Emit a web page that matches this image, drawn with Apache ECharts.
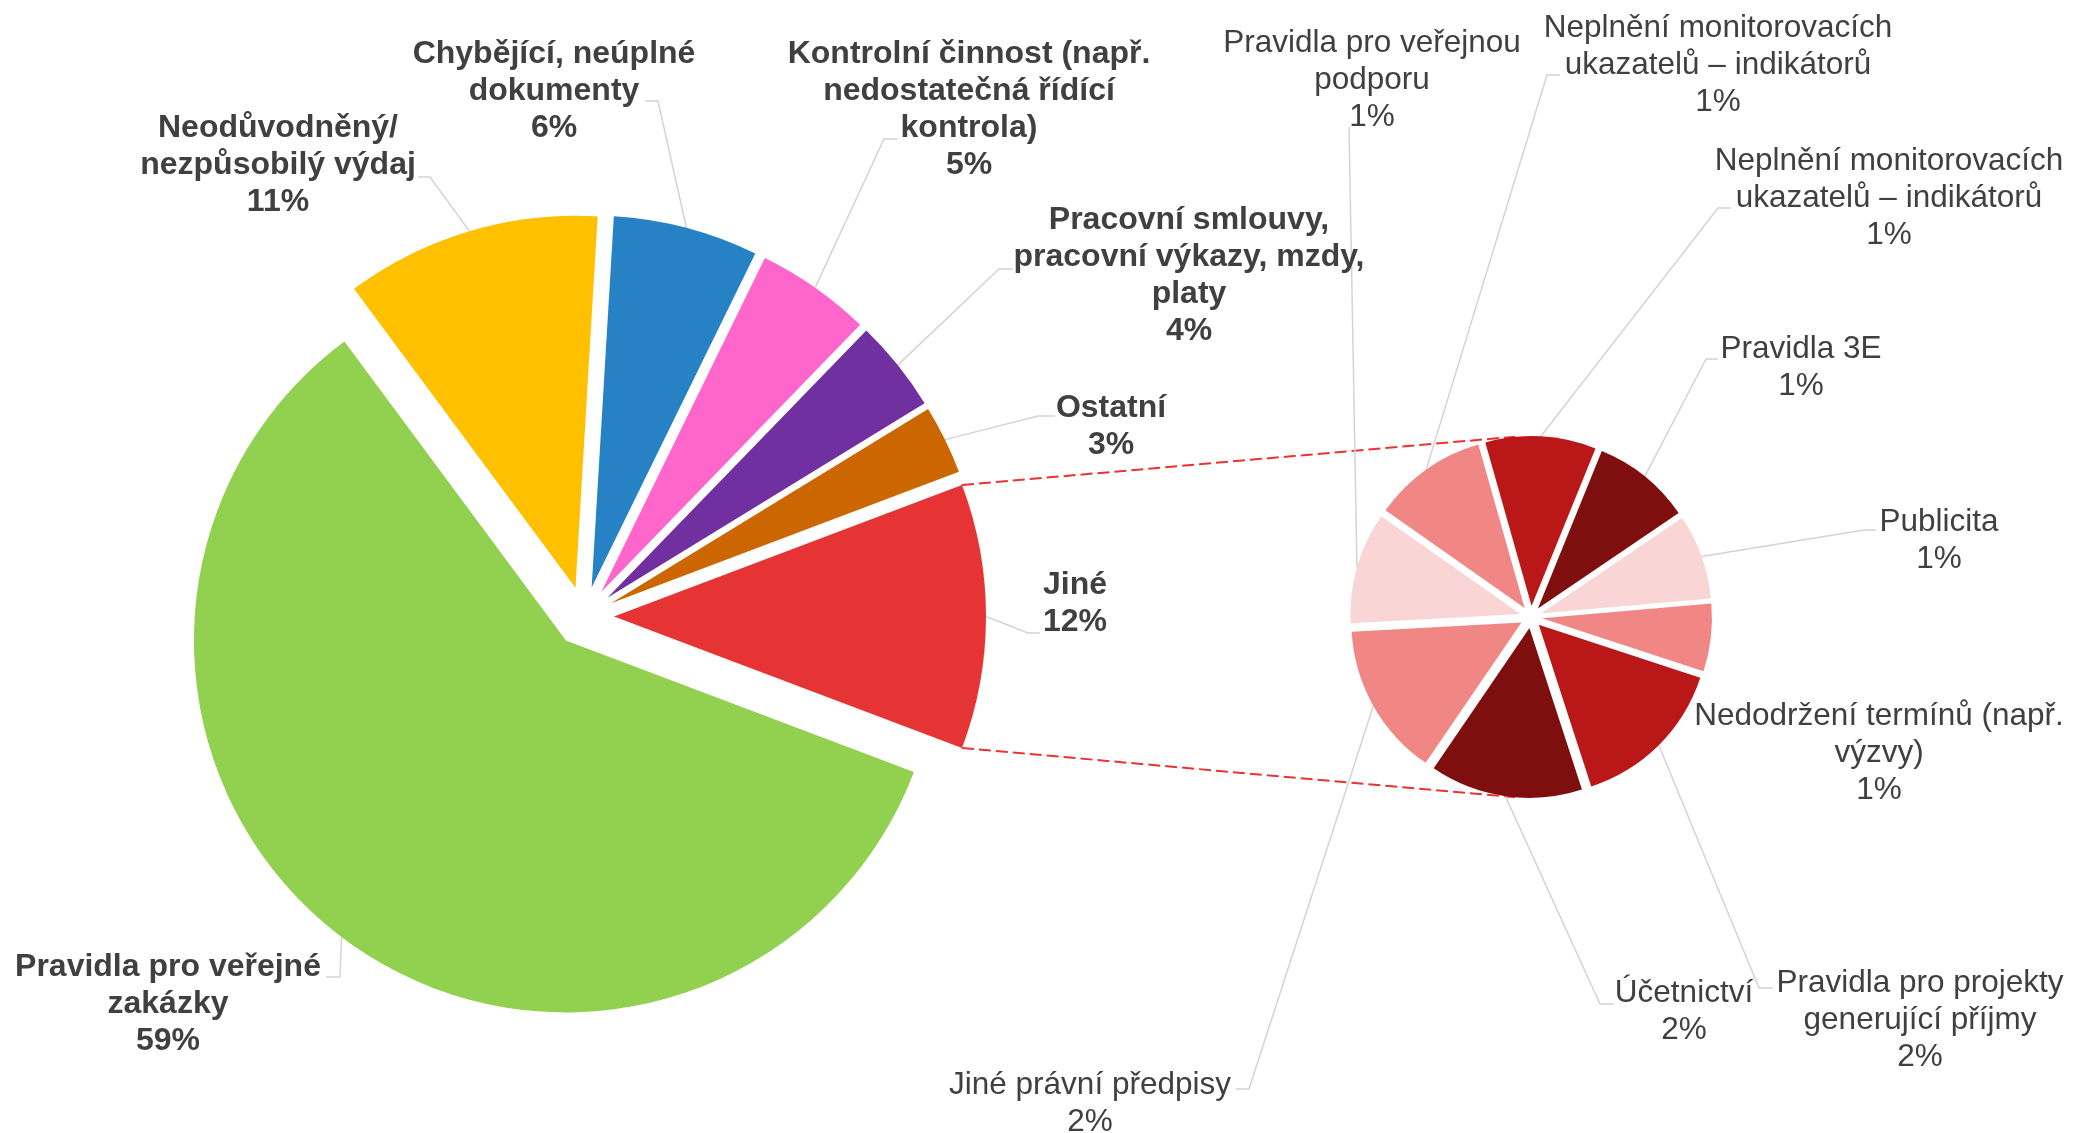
<!DOCTYPE html>
<html>
<head>
<meta charset="utf-8">
<script src="https://cdn.jsdelivr.net/npm/echarts@6/dist/echarts.min.js"></script>
<style>
  html, body { margin: 0; padding: 0; background: #ffffff; }
  #chart { width: 2074px; height: 1133px; }
</style>
</head>
<body>
<div id="chart"></div>
<script>
// Main pie: categories and their shares of all findings (%); the last slice "Jiné" is the detail pie total
const mainNames = [
  'Pravidla pro veřejné\nzakázky',
  'Neodůvodněný/\nnezpůsobilý výdaj',
  'Chybějící, neúplné\ndokumenty',
  'Kontrolní činnost (např.\nnedostatečná řídící\nkontrola)',
  'Pracovní smlouvy,\npracovní výkazy, mzdy,\nplaty',
  'Ostatní'
];
const mainValues = [59.1, 11.1, 6.3, 5.0, 4.0, 3.0];
const otherName = 'Jiné';

// Detail pie: breakdown of "Jiné" (% of all findings), clockwise from the top
const detailNames = [
  'Neplnění monitorovacích\nukazatelů – indikátorů',
  'Pravidla 3E',
  'Publicita',
  'Nedodržení termínů (např.\nvýzvy)',
  'Pravidla pro projekty\ngenerující příjmy',
  'Účetnictví',
  'Jiné právní předpisy',
  'Pravidla pro veřejnou\npodporu',
  'Neplnění monitorovacích\nukazatelů – indikátorů'
];
const detailValues = [1.21, 1.08, 0.93, 0.74, 1.72, 1.67, 1.68, 1.22, 1.25];

// Colours
const mainColors = ['#92D050', '#FFC000', '#2682C5', '#FF66CC', '#7030A0', '#CC6600', '#E63434'];
const detailColors = ['#BA1818', '#7F0F0F', '#F9D5D5', '#F08784', '#BA1818', '#7F0F0F', '#F08784', '#F9D5D5', '#F08784'];

// Geometry (px)
const MAIN_CENTER = [584, 616.5], MAIN_R = 372, MAIN_OFFSET = 30;
const DETAIL_CENTER = [1531, 617], DETAIL_R = 170, DETAIL_OFFSET = 11, DETAIL_START = 105.8;

// Label placement: [centreX, centreY, leaderEndX, leaderEndY, stub]
const mainLabelPos = [
  [168, 1004, 326, 977, 14],
  [278, 165, 418, 177, 12],
  [554, 91, 645, 101, 13],
  [969, 110, 898, 139, -14],
  [1189, 276, 1013, 269, -14],
  [1111, 427, 1055, 416, -17],
  [1075, 604, 1040, 633, -12]
];
const detailLabelPos = [
  [1889, 198, 1731, 208, -13],
  [1801, 368, 1718, 359, -12],
  [1939, 541, 1876, 530, -12],
  [1879, 753, null, null, 0],
  [1920, 1020, 1773, 988, -14],
  [1684, 1012, 1614, 1004, -14],
  [1090, 1104, 1236, 1089, 13],
  [1372, 80, 1349, 127, 0],
  [1718, 65, 1560, 75, -13]
];

const FONT = '"Liberation Sans", Arial, sans-serif';
const TEXT = '#404040';
const LEADER = { color: '#D4D4D4', width: 1.5 };

const sum = arr => arr.reduce((a, b) => a + b, 0);
const otherValue = sum(detailValues);
const mainAll = mainValues.concat([otherValue]);
const mainNamesAll = mainNames.concat([otherName]);

// the "Jiné" slice faces the detail pie (centred on 3 o'clock)
const mainStart = -(otherValue / sum(mainAll)) * 360 / 2;

// slice angles in screen radians (clockwise from startAngle)
function sliceAngles(values, startDeg) {
  const total = sum(values);
  let a = -startDeg * Math.PI / 180;
  return values.map(v => {
    const span = v / total * 2 * Math.PI;
    const r = { start: a, end: a + span, mid: a + span / 2 };
    a += span;
    return r;
  });
}
const mainAngles = sliceAngles(mainAll, mainStart);
const detailAngles = sliceAngles(detailValues, DETAIL_START);

const shift = (center, off, ang) => [center[0] + off * Math.cos(ang), center[1] + off * Math.sin(ang)];

// One pie series per slice, each pushed out along its bisector; the other slices are left transparent
function explodedPie(names, values, colors, angles, center, r, off, startDeg, labelPos, label) {
  return values.map((_, i) => {
    const c = shift(center, off, angles[i].mid);
    return {
      type: 'pie',
      silent: true,
      center: c,
      radius: r,
      startAngle: startDeg,
      clockwise: true,
      avoidLabelOverlap: false,
      emphasis: { disabled: true },
      itemStyle: { borderWidth: 0 },
      label: label,
      labelLine: { show: true, smooth: false, lineStyle: LEADER },
      labelLayout: function (params) {
        const p = labelPos[params.dataIndex];
        const out = { x: p[0], y: p[1], align: 'center', verticalAlign: 'middle' };
        if (p[2] != null) {
          const a = shift(c, r, angles[params.dataIndex].mid);
          out.labelLinePoints = [a, [p[2] + p[4], p[3]], [p[2], p[3]]];
        }
        return out;
      },
      data: values.map((v, j) => ({
        name: names[j],
        value: v,
        itemStyle: { color: j === i ? colors[j] : 'rgba(0,0,0,0)' },
        label: { show: j === i },
        labelLine: { show: j === i && labelPos[j][2] != null }
      }))
    };
  });
}

// Dashed connectors: from the corners of the "Jiné" slice, tangent to the detail pie
function connectors() {
  const ja = mainAngles[mainAngles.length - 1];
  const jc = shift(MAIN_CENTER, MAIN_OFFSET, ja.mid);
  const corners = [ja.start, ja.end].map(t => shift(jc, MAIN_R, t));
  const rr = DETAIL_R + DETAIL_OFFSET;
  return corners.map((P, k) => {
    const dx = DETAIL_CENTER[0] - P[0], dy = DETAIL_CENTER[1] - P[1];
    const D = Math.hypot(dx, dy);
    const th = Math.atan2(dy, dx);
    const al = Math.asin(rr / D);
    const dir = k === 0 ? th - al : th + al;
    const L = Math.sqrt(D * D - rr * rr);
    return {
      type: 'line',
      z: 0,
      silent: true,
      shape: { x1: P[0], y1: P[1], x2: P[0] + L * Math.cos(dir), y2: P[1] + L * Math.sin(dir) },
      style: { stroke: '#E83434', lineWidth: 2, lineDash: [12, 5] }
    };
  });
}

const chart = echarts.init(document.getElementById('chart'), null, { renderer: 'canvas' });

const labelBase = {
  fontFamily: FONT,
  lineHeight: 37,
  color: TEXT,
  align: 'center',
  formatter: p => p.name + '\n' + Math.round(p.value) + '%'
};

chart.setOption({
  animation: false,
  backgroundColor: '#ffffff',
  graphic: connectors(),
  series: [].concat(
    explodedPie(mainNamesAll, mainAll, mainColors, mainAngles, MAIN_CENTER, MAIN_R, MAIN_OFFSET,
      mainStart, mainLabelPos, Object.assign({}, labelBase, { fontSize: 32, fontWeight: 'bold' })),
    explodedPie(detailNames, detailValues, detailColors, detailAngles, DETAIL_CENTER, DETAIL_R, DETAIL_OFFSET,
      DETAIL_START, detailLabelPos, Object.assign({}, labelBase, { fontSize: 31.5, fontWeight: 'normal' }))
  )
});
</script>
</body>
</html>
